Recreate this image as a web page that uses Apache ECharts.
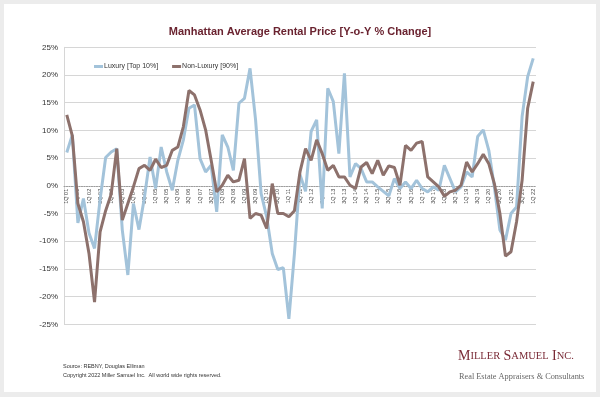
<!DOCTYPE html>
<html>
<head>
<meta charset="utf-8">
<script src="https://cdn.jsdelivr.net/npm/echarts@6/dist/echarts.min.js"></script>
<style>
html,body{margin:0;padding:0;background:#ececec;}
#card{position:absolute;left:4px;top:4px;width:592px;height:388px;background:#fff;}
#chart{position:absolute;left:0;top:0;width:600px;height:397px;}
</style>
</head>
<body>
<div id="card"></div>
<div id="chart"></div>
<script>
const years = [];
for (let y = 1; y <= 22; y++) years.push((y < 10 ? '0' : '') + y);
const categories = [];
years.forEach(function (yy) {
  ['1Q','2Q','3Q','4Q'].forEach(function (q) {
    if (yy === '22' && q !== '1Q') return;
    categories.push(q + ' ' + yy);
  });
});

const luxury = [
  6.0, 9.2, -6.7, -2.3, -8.5, -11.3, -2.5, 5.1, 6.1, 6.7,
  -8.0, -16.1, -3.2, -7.9, -2.0, 5.2, -0.5, 7.0, 2.5, -0.8,
  4.6, 8.3, 14.0, 14.6, 4.9, 2.5, 3.7, -4.7, 9.2, 7.0,
  2.8, 14.9, 15.8, 21.2, 11.9, -1.4, -5.6, -12.2, -15.1, -14.8,
  -24.0, -12.2, 2.0, -1.0, 9.8, 11.9, -4.1, 17.6, 15.2, 5.8,
  20.3, 1.6, 4.0, 3.1, 0.7, 0.7, -0.2, -1.0, -1.8, 1.3,
  -0.5, 0.7, -0.5, 1.0, -0.5, -1.1, -0.2, -0.8, 3.7, 1.3,
  -1.1, -0.2, 2.5, 1.6, 8.9, 10.1, 6.4, -0.2, -8.0, -9.8,
  -5.0, -3.8, 12.5, 19.7, 23.0
];
const nonLuxury = [
  12.8, 9.0, -3.2, -6.5, -12.2, -21.0, -8.3, -4.5, -1.5, 6.7,
  -6.2, -3.2, -0.2, 3.1, 3.7, 2.8, 4.8, 3.3, 3.7, 6.4,
  7.0, 10.7, 17.2, 16.4, 13.7, 10.1, 4.6, -1.1, 0.1, 1.9,
  0.7, 1.0, 4.9, -5.9, -5.0, -5.3, -7.7, 0.4, -5.0, -5.0,
  -5.6, -4.5, 2.5, 6.7, 4.6, 8.3, 5.8, 2.8, 3.7, 1.6,
  1.6, 0.1, -0.5, 3.4, 4.2, 2.2, 4.6, 1.9, 3.6, 3.3,
  0.1, 7.3, 6.4, 7.7, 8.0, 1.6, 0.7, -0.2, -1.9, -1.1,
  -0.8, 0.1, 4.3, 2.5, 4.0, 5.7, 4.0, 0.4, -5.0, -12.7,
  -11.9, -6.5, 1.0, 14.0, 18.8
];
const seriesNames = ['Luxury [Top 10%]', 'Non-Luxury [90%]'];
const yTicks = { min: -25, max: 25, interval: 5 };

const gridTop = 47.3, gridBottom = 72.7;
const plotH = 397 - gridTop - gridBottom;
const zeroOffset = -plotH * (0 - yTicks.min) / (yTicks.max - yTicks.min);

const chart = echarts.init(document.getElementById('chart'), null, { renderer: 'canvas' });
chart.setOption({
  backgroundColor: 'transparent',
  animation: false,
  color: ['#a3c3da', '#8d716c'],
  title: {
    text: 'Manhattan Average Rental Price [Y-o-Y % Change]',
    left: 'center',
    top: 21,
    textStyle: { fontFamily: 'Liberation Sans, Arial, sans-serif', fontSize: 11, fontWeight: 'bold', color: '#6a2330' }
  },
  legend: {
    left: 89,
    top: 58,
    icon: 'rect',
    itemWidth: 9,
    itemHeight: 3,
    itemGap: 14,
    textStyle: { fontFamily: 'Liberation Sans, Arial, sans-serif', fontSize: 7, color: '#333', padding: [0, 0, 0, -4] },
    data: seriesNames
  },
  grid: { left: 64, right: 64, top: gridTop, bottom: gridBottom, containLabel: false },
  xAxis: {
    type: 'category',
    data: categories,
    boundaryGap: true,
    position: 'bottom',
    offset: zeroOffset,
    axisLine: { onZero: false, lineStyle: { color: '#9a9a9a', type: [1, 1.5], width: 1 } },
    axisTick: { show: false },
    axisLabel: {
      interval: 1,
      rotate: 90,
      fontSize: 5.5,
      margin: 3,
      color: '#444',
      fontFamily: 'Liberation Sans, Arial, sans-serif'
    },
    splitLine: { show: false }
  },
  yAxis: {
    type: 'value',
    min: yTicks.min,
    max: yTicks.max,
    interval: yTicks.interval,
    axisLine: { show: true, lineStyle: { color: '#d6d6d6' } },
    axisTick: { show: false },
    axisLabel: {
      formatter: '{value}%',
      fontSize: 8,
      margin: 6,
      color: '#333',
      fontFamily: 'Liberation Sans, Arial, sans-serif'
    },
    splitLine: { lineStyle: { color: '#d6d6d6', width: 1 } }
  },
  series: [
    { name: seriesNames[0], type: 'line', data: luxury, symbol: 'none', lineStyle: { width: 3 }, z: 2 },
    { name: seriesNames[1], type: 'line', data: nonLuxury, symbol: 'none', lineStyle: { width: 3 }, z: 3 }
  ],
  graphic: [
    { type: 'text', left: 63, top: 363, style: { text: 'Source: REBNY, Douglas Elliman', fontSize: 5.5, fill: '#333', fontFamily: 'Liberation Sans, Arial, sans-serif' } },
    { type: 'text', left: 63, top: 372, style: { text: 'Copyright 2022 Miller Samuel Inc.  All world wide rights reserved.', fontSize: 5.5, fill: '#333', fontFamily: 'Liberation Sans, Arial, sans-serif' } },
    { type: 'text', left: 458, top: 349, style: {
        text: '{a|M}{b|ILLER} {a|S}{b|AMUEL} {a|I}{b|NC.}',
        rich: {
          a: { fontSize: 14, fill: '#7a2a36', fontFamily: 'Liberation Serif, Times New Roman, serif' },
          b: { fontSize: 10.5, fill: '#7a2a36', fontFamily: 'Liberation Serif, Times New Roman, serif' }
        }
      } },
    { type: 'text', left: 459, top: 373, style: { text: 'Real Estate Appraisers & Consultants', fontSize: 8.3, fill: '#666', fontFamily: 'Liberation Serif, Times New Roman, serif' } }
  ]
});
</script>
</body>
</html>
